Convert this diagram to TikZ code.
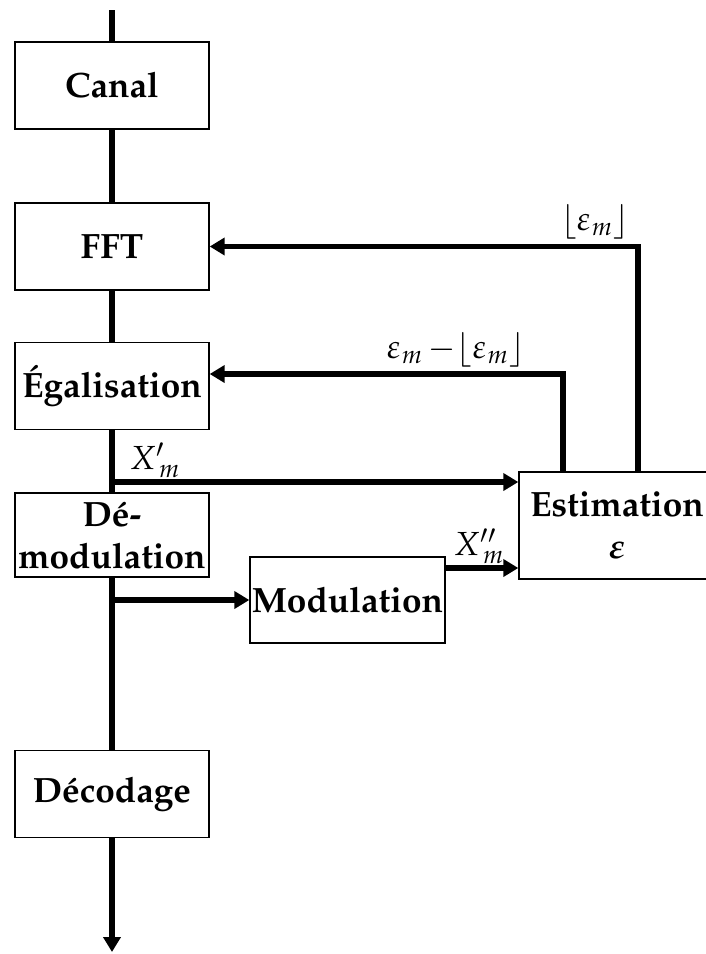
\documentclass[tikz,border=0pt]{standalone}
\usepackage[T1]{fontenc}
\usepackage{mathpazo}
\usepackage{amsmath}
\usetikzlibrary{arrows.meta, calc}

\begin{document}
\begin{tikzpicture}[x=0.02cm, y=-0.02cm, font=\fontsize{20}{24}\selectfont\bfseries,
			boite/.style={draw, line width=0.8pt, inner sep=0pt, align=center,
			              minimum width=3.88cm, minimum height=1.74cm},
			trait/.style={line width=0.105cm},
			fleche/.style={-{Triangle[length=0.3cm, width=0.34cm]}, line width=0.105cm},
			etiq/.style={font=\fontsize{19}{23}\selectfont, inner sep=0pt}]
			\useasboundingbox (0,0) rectangle (706,954);
			\node[boite] (canal) at (112,85.5) {Canal};
			\node[boite] (fft) at (112,246.5) {FFT};
			\node[boite] (egal) at (112,386) {\'Egalisation};
			\node[boite, minimum height=1.68cm] (demod) at (112,535) {D\'e-\\modulation};
			\node[boite] (decod) at (112,794) {D\'ecodage};
			\node[boite, minimum width=3.9cm, minimum height=1.72cm] (modul) at (347.5,600) {Modulation};
			\node[boite, minimum width=3.92cm, minimum height=2.14cm] (estim) at (617,525.5)
				{Estimation\\$\boldsymbol{\varepsilon}$};
			\coordinate (haut) at (112,10);
			\coordinate (bas) at (112,952);
			\draw[trait] (haut) -- (canal.north) (canal.south) -- (fft.north)
			             (fft.south) -- (egal.north) (egal.south) -- (demod.north)
			             (demod.south) -- (decod.north);
			\draw[fleche] (decod.south) -- (bas);
			\coordinate (pX) at (112,482);
			\coordinate (pM) at (112,600);
			\coordinate (sM) at ([yshift=0.64cm]modul.east);
			\draw[fleche] (pX) -- (pX -| estim.west);
			\draw[fleche] (pM) -- (modul.west);
			\draw[fleche] (sM) -- (sM -| estim.west);
			\coordinate (r1) at (563,0);
			\coordinate (r2) at (638,0);
			\draw[fleche] (estim.north -| r1) |- ([yshift=0.24cm]egal.east);
			\draw[fleche] (estim.north -| r2) |- (fft.east);
			\node[etiq] (lplancher) at (595,222) {$\lfloor \varepsilon_m \rfloor$};
			\node[etiq] (lreste) at (456,350) {$\varepsilon_m\,{-}\lfloor \varepsilon_m \rfloor$};
			\node[etiq] (lxp) at (155,460) {$X'_{\,m}$};
			\node[etiq] (lxpp) at (479,546) {$X''_{\,m}$};
		\end{tikzpicture}
\end{document}
